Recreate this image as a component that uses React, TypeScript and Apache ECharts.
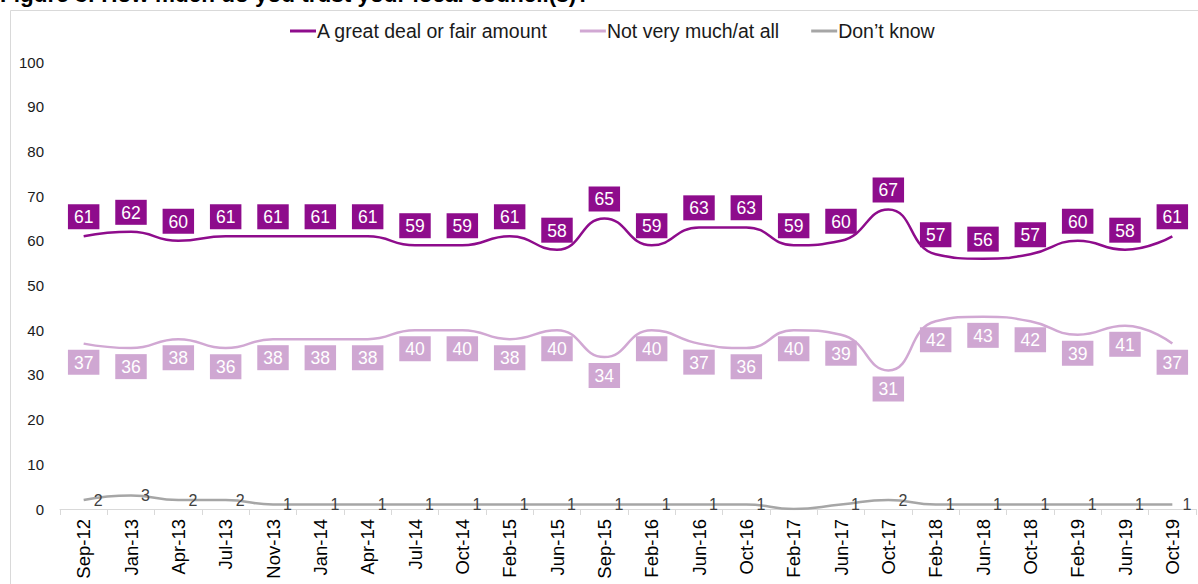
import React, { useEffect, useRef } from "react";
import * as echarts from "echarts";

const categories = [
  "Sep-12", "Jan-13", "Apr-13", "Jul-13", "Nov-13", "Jan-14", "Apr-14", "Jul-14",
  "Oct-14", "Feb-15", "Jun-15", "Sep-15", "Feb-16", "Jun-16", "Oct-16", "Feb-17",
  "Jun-17", "Oct-17", "Feb-18", "Jun-18", "Oct-18", "Feb-19", "Jun-19", "Oct-19",
];
const greatDeal = [61, 62, 60, 61, 61, 61, 61, 59, 59, 61, 58, 65, 59, 63, 63, 59, 60, 67, 57, 56, 57, 60, 58, 61];
const notVery = [37, 36, 38, 36, 38, 38, 38, 40, 40, 38, 40, 34, 40, 37, 36, 40, 39, 31, 42, 43, 42, 39, 41, 37];
const dontKnow = [2, 3, 2, 2, 1, 1, 1, 1, 1, 1, 1, 1, 1, 1, 1, 0, 1, 2, 1, 1, 1, 1, 1, 1];
const yTicks = { min: 0, max: 100, interval: 10 };
const title = "Figure 3: How much do you trust your local council(s)?";

const FONT = "'Liberation Sans', Arial, sans-serif";

export default function App() {
  const ref = useRef<HTMLDivElement>(null);
  useEffect(() => {
    document.body.style.margin = "0";
    const chart = echarts.init(ref.current!, undefined, { renderer: "svg" });
    const pointStyle = { symbol: "circle", symbolSize: 0.1, showSymbol: true };
    chart.setOption({
      animation: false,
      textStyle: { fontFamily: FONT },
      graphic: [
        {
          type: "rect",
          shape: { x: 10.5, y: 10.5, width: 1300, height: 700 },
          style: { fill: "none", stroke: "#d9d9d9", lineWidth: 1 },
          silent: true,
        },
        {
          type: "text",
          x: 0,
          y: -17,
          style: {
            text: title,
            font: `bold 22.5px ${FONT}`,
            fill: "#000",
            verticalAlign: "top",
          },
        },
      ],
      legend: {
        top: 16,
        left: 285,
        icon: "rect",
        itemWidth: 26,
        itemHeight: 3,
        itemGap: 32,
        textStyle: { fontSize: 19.5, color: "#1a1a1a", padding: [0, 0, 0, -4], fontFamily: FONT },
        data: ["A great deal or fair amount", "Not very much/at all", "Don\u2019t know"],
      },
      grid: { left: 60, right: 2, top: 62, bottom: 75 },
      xAxis: {
        type: "category",
        data: categories,
        boundaryGap: true,
        axisLine: { lineStyle: { color: "#d9d9d9", width: 1 } },
        axisTick: { show: true, length: 6, lineStyle: { color: "#d9d9d9" } },
        axisLabel: { rotate: 90, fontSize: 18.5, color: "#000", margin: 10, fontFamily: FONT },
      },
      yAxis: {
        type: "value",
        min: yTicks.min,
        max: yTicks.max,
        interval: yTicks.interval,
        axisLine: { show: false },
        axisTick: { show: false },
        splitLine: { show: false },
        axisLabel: { fontSize: 15, color: "#1a1a1a", margin: 16, fontFamily: FONT },
      },
      series: [
        {
          name: "A great deal or fair amount",
          type: "line",
          data: greatDeal,
          smooth: 0.5,
          ...pointStyle,
          lineStyle: { color: "#8e0c8c", width: 2.5 },
          itemStyle: { color: "#8e0c8c" },
          label: {
            show: true,
            position: "top",
            distance: 7,
            color: "#fff",
            fontSize: 17.5,
            fontFamily: FONT,
            backgroundColor: "#8e0c8c",
            padding: [4, 6, 3, 6],
          },
        },
        {
          name: "Not very much/at all",
          type: "line",
          data: notVery,
          smooth: 0.5,
          ...pointStyle,
          lineStyle: { color: "#d1a8d3", width: 2.5 },
          itemStyle: { color: "#d1a8d3" },
          label: {
            show: true,
            position: "bottom",
            distance: 6,
            color: "#fff",
            fontSize: 17.5,
            fontFamily: FONT,
            backgroundColor: "#cfa7d2",
            padding: [4, 6, 3, 6],
          },
        },
        {
          name: "Don\u2019t know",
          type: "line",
          data: dontKnow,
          smooth: 0.5,
          ...pointStyle,
          lineStyle: { color: "#a6a6a6", width: 2.5 },
          itemStyle: { color: "#a6a6a6" },
          label: {
            show: true,
            position: "right",
            distance: 10,
            color: "#404040",
            fontSize: 16,
            fontFamily: FONT,
            formatter: (p: any) => (p.value === 0 ? "" : String(p.value)),
          },
        },
      ],
    });
    return () => chart.dispose();
  }, []);
  return <div ref={ref} style={{ width: 1198, height: 584 }} />;
}
